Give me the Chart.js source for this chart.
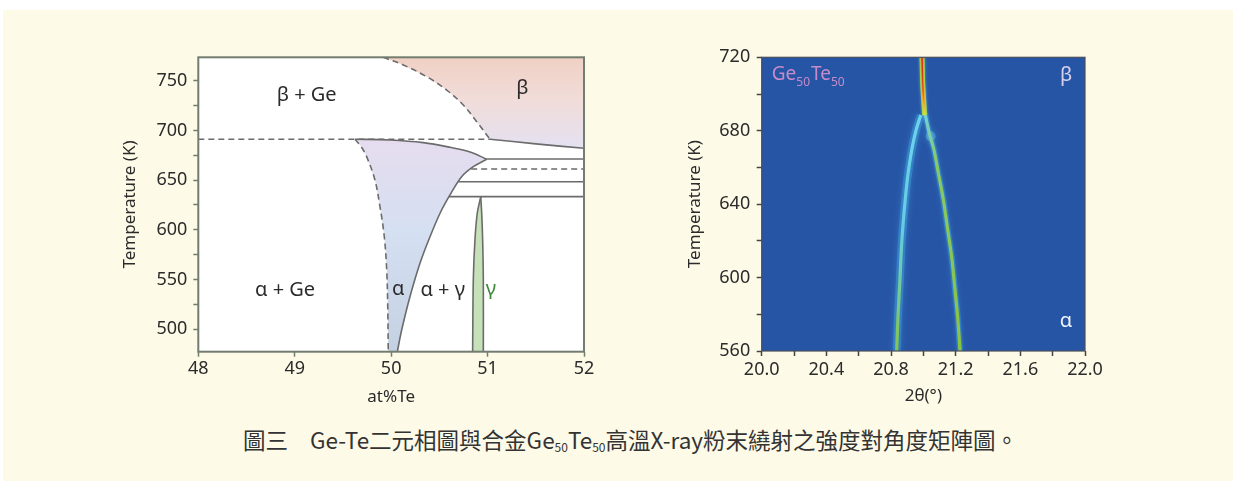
<!DOCTYPE html>
<html><head><meta charset="utf-8">
<script src="https://cdn.jsdelivr.net/npm/chart.js@4.4.0/dist/chart.umd.min.js"></script>
<style>
html,body{margin:0;padding:0;background:#fff;width:1233px;height:481px;overflow:hidden;}
#bg{position:absolute;left:3px;top:10px;width:1230px;height:471px;background:#fefae8;}
.cw{position:absolute;}
#c1w{left:100px;top:40px;width:510px;height:380px;}
#c2w{left:670px;top:40px;width:450px;height:380px;}
#cap{position:absolute;left:243px;top:424px;font-family:"Noto Sans CJK TC","Noto Sans CJK SC",sans-serif;font-size:22.5px;color:#333;white-space:nowrap;line-height:30px;}
#cap sub{font-size:12px;vertical-align:-3px;line-height:0;}
</style></head>
<body>
<div id="bg"></div>
<div class="cw" id="c1w"><canvas id="c1"></canvas></div>
<div class="cw" id="c2w"><canvas id="c2"></canvas></div>
<div id="cap"><span>圖三</span><span style="margin-left:22px">Ge-Te二元相圖與合金Ge<sub>50</sub>Te<sub>50</sub>高溫X-ray粉末繞射之強度對角度矩陣圖。</span></div>
<script>
// ---------- Phase diagram data (at% Te, Temperature K) ----------
const leftXTicks = [48, 49, 50, 51, 52];
const leftYTicks = [500, 525, 550, 575, 600, 625, 650, 675, 700, 725, 750];
const eutecticTe = [48, 51.025];
const eutecticT = [691.1, 691.1];
const betaBoundTe = [49.918, 50.126, 50.369, 50.576, 50.748, 50.887, 51.025];
const betaBoundT = [773.5, 765.8, 754.0, 740.6, 725.6, 708.8, 691.1];
const betaLowerTe = [51.025, 51.5, 52];
const betaLowerT = [691.1, 686.5, 682.0];
const alphaLeftTe = [49.625, 49.69, 49.746, 49.832, 49.884, 49.929, 49.954, 49.964, 49.970];
const alphaLeftT = [691.1, 683.5, 673.6, 650.1, 623.3, 593.1, 559.6, 526.1, 477.5];
const alphaTopTe = [49.625, 49.988, 50.333, 50.610, 50.818, 50.991];
const alphaTopT = [691.1, 690.4, 687.7, 683.0, 678.3, 671.0];
const alphaRightTe = [50.991, 50.852, 50.731, 50.610, 50.507, 50.403, 50.299, 50.195, 50.109, 50.064];
const alphaRightT = [671.0, 663.5, 653.5, 635.1, 616.7, 593.1, 566.4, 532.8, 499.3, 477.5];
const gammaLeftTe = [50.845, 50.852, 50.869, 50.893, 50.929];
const gammaLeftT = [477.5, 549.6, 589.8, 616.7, 633.4];
const gammaRightTe = [50.929, 50.939, 50.949, 50.956, 50.956];
const gammaRightT = [633.4, 616.7, 589.8, 549.6, 477.5];
const solidIsoT = [671.3, 648.4, 633.4];
const solidIsoStartTe = [50.991, 50.697, 50.60];
const dashedIsoT = [661.2];
const dashedIsoStartTe = [50.83];
const phaseLabels = [
  {text: 'β + Ge', x: 49.124, y: 735.6},
  {text: 'β', x: 51.36, y: 742.4},
  {text: 'α + Ge', x: 48.9, y: 538.8},
  {text: 'α', x: 50.074, y: 540},
  {text: 'α + γ', x: 50.535, y: 538.8},
  {text: 'γ', x: 51.035, y: 540, green: true}
];

// ---------- XRD intensity map data (2θ deg, Temperature K) ----------
const rightXTicks = [20.0, 20.2, 20.4, 20.6, 20.8, 21.0, 21.2, 21.4, 21.6, 21.8, 22.0];
const rightYTicks = [560, 580, 600, 620, 640, 660, 680, 700, 720];
const betaPeakTheta = [20.992, 20.996, 21.006, 21.008];
const betaPeakT = [720, 705.8, 691.3, 688.5];
const alphaPeak1Theta = [20.984, 20.955, 20.928, 20.903, 20.882, 20.866, 20.854, 20.843, 20.835];
const alphaPeak1T = [688.6, 680.3, 669.5, 655.0, 636.8, 618.7, 596.9, 578.7, 560];
const alphaPeak2Theta = [21.010, 21.037, 21.066, 21.093, 21.124, 21.148, 21.175, 21.196, 21.212, 21.227];
const alphaPeak2T = [689.5, 678.6, 669.5, 656.8, 642.3, 627.7, 611.4, 593.2, 578.7, 560];
const blobTheta = [21.045];
const blobT = [677];

// ---------- helpers ----------
const FONT = '"Noto Sans", sans-serif';
Chart.defaults.font.family = FONT;
Chart.defaults.font.size = 17;
Chart.defaults.color = '#2b2b2b';
const P = (xs, ys) => xs.map((x, i) => ({x, y: ys[i]}));
const line = (data, o) => Object.assign({data, showLine: true, pointRadius: 0, borderWidth: 1.6,
  borderColor: '#6b6b6b', fill: false, tension: 0.35, order: 1}, o);
const DASH = [6, 4];

const polyFillPlugin = {
  id: 'polyFill',
  beforeDatasetsDraw(chart, args, opts) {
    const {ctx, chartArea: ca, scales: {y}} = chart;
    ctx.save();
    ctx.fillStyle = opts.areaColor;
    ctx.fillRect(ca.left, ca.top, ca.width, ca.height);
    ctx.beginPath(); ctx.rect(ca.left, ca.top, ca.width, ca.height); ctx.clip();
    chart.data.datasets.forEach((ds, i) => {
      if (!ds.polyStops) return;
      const meta = chart.getDatasetMeta(i);
      const g = ctx.createLinearGradient(0, y.getPixelForValue(ds.polyRange[0]), 0, y.getPixelForValue(ds.polyRange[1]));
      ds.polyStops.forEach(([o, c]) => g.addColorStop(o, c));
      ctx.beginPath();
      meta.data.forEach((p, k) => k ? ctx.lineTo(p.x, p.y) : ctx.moveTo(p.x, p.y));
      ctx.closePath();
      ctx.fillStyle = g;
      ctx.fill();
    });
    ctx.restore();
  }
};
const framePlugin = {
  id: 'frame',
  afterDraw(chart, args, opts) {
    const {ctx, chartArea: ca} = chart;
    ctx.save();
    ctx.strokeStyle = opts.color; ctx.lineWidth = opts.width;
    ctx.strokeRect(ca.left, ca.top, ca.width, ca.height);
    ctx.restore();
  }
};
const glowPlugin = {
  id: 'glow',
  beforeDatasetDraw(chart, args) {
    const ds = chart.data.datasets[args.index];
    if (ds.glowColor) { chart.ctx.save(); chart.ctx.shadowColor = ds.glowColor; chart.ctx.shadowBlur = ds.glowBlur; }
  },
  afterDatasetDraw(chart, args) {
    const ds = chart.data.datasets[args.index];
    if (ds.glowColor) chart.ctx.restore();
  }
};
const textPlugin = {
  id: 'texts',
  afterDatasetsDraw(chart, args, opts) {
    const {ctx, scales: {x, y}} = chart;
    ctx.save();
    opts.draw(ctx, x, y);
    ctx.restore();
  }
};

// ---------- left: phase diagram ----------
const yTop = 773.5, yBot = 477.5, xL = 48, xR = 52;
const betaPoly = P(betaBoundTe.concat(betaLowerTe.slice(1), [xR]), betaBoundT.concat(betaLowerT.slice(1), [yTop]));
const alphaPoly = P(alphaLeftTe.slice().reverse().concat(alphaTopTe.slice(1), alphaRightTe.slice(1)),
                    alphaLeftT.slice().reverse().concat(alphaTopT.slice(1), alphaRightT.slice(1)));
const gammaPoly = P(gammaLeftTe.concat(gammaRightTe.slice(1)), gammaLeftT.concat(gammaRightT.slice(1)));

const leftSets = [
  {data: betaPoly, showLine: false, pointRadius: 0, polyRange: [yTop, 682],
   polyStops: [[0, '#f0d0c4'], [0.45, '#f1dcd8'], [1, '#e4e1f2']]},
  {data: alphaPoly, showLine: false, pointRadius: 0, polyRange: [691, yBot],
   polyStops: [[0, '#e6dcef'], [0.45, '#d4e0f1'], [1, '#c4d1e2']]},
  {data: gammaPoly, showLine: false, pointRadius: 0, polyRange: [633, yBot],
   polyStops: [[0, '#c6e0b8'], [1, '#c6e0b8']]},
  line(P(eutecticTe, eutecticT), {borderDash: DASH, tension: 0}),
  line(P(betaBoundTe, betaBoundT), {borderDash: DASH}),
  line(P(betaLowerTe, betaLowerT), {tension: 0.2}),
  line(P(alphaLeftTe, alphaLeftT), {borderDash: DASH}),
  line(P(alphaTopTe, alphaTopT), {}),
  line(P(alphaRightTe, alphaRightT), {}),
  line(P(gammaLeftTe, gammaLeftT), {}),
  line(P(gammaRightTe, gammaRightT), {}),
  ...solidIsoT.map((t, i) => line(P([solidIsoStartTe[i], xR], [t, t]), {tension: 0})),
  ...dashedIsoT.map((t, i) => line(P([dashedIsoStartTe[i], xR], [t, t]), {tension: 0, borderDash: DASH}))
];

const axisGrid = (c) => ({display: true, drawOnChartArea: false, drawTicks: true, tickLength: 5, tickWidth: 1.5, color: c});
const TICKFONT = {size: 18};

new Chart(document.getElementById('c1'), {
  type: 'line',
  data: {datasets: leftSets},
  options: {
    animation: false, responsive: true, maintainAspectRatio: false, events: [],
    layout: {padding: {left: 16, top: 17.3, right: 26, bottom: 0}},
    plugins: {
      legend: {display: false}, tooltip: {enabled: false},
      polyFill: {areaColor: '#ffffff'},
      frame: {color: '#737d6f', width: 2},
      texts: {draw(ctx, x, y) {
        ctx.font = '20px ' + FONT; ctx.textAlign = 'center'; ctx.textBaseline = 'middle';
        phaseLabels.forEach(l => {
          ctx.fillStyle = l.green ? '#3f8a3a' : '#2b2b2b';
          ctx.fillText(l.text, x.getPixelForValue(l.x), y.getPixelForValue(l.y));
        });
      }}
    },
    scales: {
      x: {type: 'linear', min: xL, max: xR,
        afterBuildTicks: s => { s.ticks = leftXTicks.map(v => ({value: v})); },
        afterFit: s => { s.height = 68.3; },
        ticks: {padding: 1.2, maxRotation: 0, autoSkip: false, color: '#2b2b2b', font: TICKFONT},
        grid: axisGrid('#737d6f'), border: {display: false},
        title: {display: true, text: 'at%Te', color: '#2b2b2b', padding: {top: 0, bottom: 12.8}}},
      y: {type: 'linear', min: yBot, max: yTop,
        afterBuildTicks: s => { s.ticks = leftYTicks.map(v => ({value: v})); },
        afterFit: s => { s.width = 82.3; },
        ticks: {padding: 6, autoSkip: false, color: '#2b2b2b', font: TICKFONT, callback: v => (v % 50 === 0 ? String(v) : '')},
        grid: axisGrid('#737d6f'), border: {display: false},
        title: {display: true, text: 'Temperature (K)', color: '#2b2b2b', padding: {top: 4, bottom: 4}}}
    }
  },
  plugins: [polyFillPlugin, framePlugin, textPlugin]
});

// ---------- right: XRD map ----------
const vgrad = (stops, t0, t1) => (c) => {
  const ch = c.chart; if (!ch.chartArea) return stops[0][1];
  const y = ch.scales.y;
  const g = ch.ctx.createLinearGradient(0, y.getPixelForValue(t0), 0, y.getPixelForValue(t1));
  stops.forEach(([o, col]) => g.addColorStop(o, col));
  return g;
};
const rightSets = [
  line(P(alphaPeak1Theta, alphaPeak1T), {borderWidth: 8, borderColor: 'rgba(70,180,235,0.35)', glowColor: 'rgba(80,200,245,0.7)', glowBlur: 6, tension: 0.3, order: 9}),
  line(P(alphaPeak2Theta, alphaPeak2T), {borderWidth: 6, borderColor: 'rgba(70,180,235,0.35)', glowColor: 'rgba(80,200,245,0.6)', glowBlur: 5, tension: 0.3, order: 9}),
  {data: P(blobTheta, blobT), showLine: false, pointRadius: 5, pointBorderWidth: 0,
   pointBackgroundColor: 'rgba(100,200,240,0.4)', glowColor: 'rgba(100,205,245,0.7)', glowBlur: 8, order: 8},
  line(P(alphaPeak1Theta, alphaPeak1T), {borderWidth: 3.2, tension: 0.3, order: 5,
    borderColor: vgrad([[0, '#6fd3ee'], [0.5, '#66cbe2'], [1, '#86c44a']], 690, 560)}),
  line(P(alphaPeak2Theta, alphaPeak2T), {borderWidth: 3.2, tension: 0.3, order: 5,
    borderColor: vgrad([[0, '#73cfe0'], [0.2, '#86c96a'], [1, '#8ac43f']], 690, 560)}),
  line(P(betaPeakTheta, betaPeakT), {borderWidth: 5, borderColor: '#a3d44c', tension: 0.2, order: 4,
    glowColor: 'rgba(110,210,210,0.7)', glowBlur: 3}),
  line(P(betaPeakTheta, betaPeakT), {borderWidth: 3, tension: 0.2, order: 3,
    borderColor: vgrad([[0, '#f28a22'], [0.7, '#f3b12a'], [1, '#d6dc45']], 720, 688)}),
  line(P(betaPeakTheta, betaPeakT), {borderWidth: 1.4, tension: 0.2, order: 2,
    borderColor: vgrad([[0, '#d5261a'], [0.6, '#e2501c'], [1, 'rgba(240,150,40,0)']], 720, 690)})
];

new Chart(document.getElementById('c2'), {
  type: 'line',
  data: {datasets: rightSets},
  options: {
    animation: false, responsive: true, maintainAspectRatio: false, events: [],
    layout: {padding: {left: 10.8, top: 17.3, right: 35, bottom: 0}},
    plugins: {
      legend: {display: false}, tooltip: {enabled: false},
      polyFill: {areaColor: '#2755a6'},
      frame: {color: '#4a4f5a', width: 1.2},
      texts: {draw(ctx, x, y) {
        ctx.textBaseline = 'alphabetic'; ctx.textAlign = 'left';
        ctx.fillStyle = '#c58cc9';
        let px = x.getPixelForValue(20.062), py = y.getPixelForValue(707.6);
        const parts = [['Ge', 19, 0], ['50', 12, 6], ['Te', 19, 0], ['50', 12, 6]];
        parts.forEach(([t, s, dy]) => { ctx.font = s + 'px ' + FONT; ctx.fillText(t, px, py + dy); px += ctx.measureText(t).width + (s < 15 ? 1 : 0); });
        ctx.textAlign = 'center'; ctx.textBaseline = 'middle'; ctx.font = '20px ' + FONT;
        ctx.fillStyle = '#d8d2ef';
        ctx.fillText('β', x.getPixelForValue(21.883), y.getPixelForValue(710));
        ctx.fillStyle = '#eef2fa';
        ctx.fillText('α', x.getPixelForValue(21.883), y.getPixelForValue(576));
      }}
    },
    scales: {
      x: {type: 'linear', min: 20, max: 22,
        afterBuildTicks: s => { s.ticks = rightXTicks.map(v => ({value: v})); },
        afterFit: s => { s.height = 69; },
        ticks: {padding: 2.9, maxRotation: 0, autoSkip: false, color: '#2b2b2b', font: TICKFONT,
          callback: v => (Math.round(v * 10) % 4 === 0 ? v.toFixed(1) : '')},
        grid: axisGrid('#444'), border: {display: false},
        title: {display: true, text: '2θ(°)', color: '#2b2b2b', padding: {top: 0, bottom: 13.3}}},
      y: {type: 'linear', min: 560, max: 720,
        afterBuildTicks: s => { s.ticks = rightYTicks.map(v => ({value: v})); },
        afterFit: s => { s.width = 80.9; },
        ticks: {padding: 6.5, autoSkip: false, color: '#2b2b2b', font: TICKFONT, callback: v => (v % 40 === 0 ? String(v) : '')},
        grid: axisGrid('#444'), border: {display: false},
        title: {display: true, text: 'Temperature (K)', color: '#2b2b2b', padding: {top: 4, bottom: 4}}}
    }
  },
  plugins: [polyFillPlugin, glowPlugin, framePlugin, textPlugin]
});
</script>
</body></html>
